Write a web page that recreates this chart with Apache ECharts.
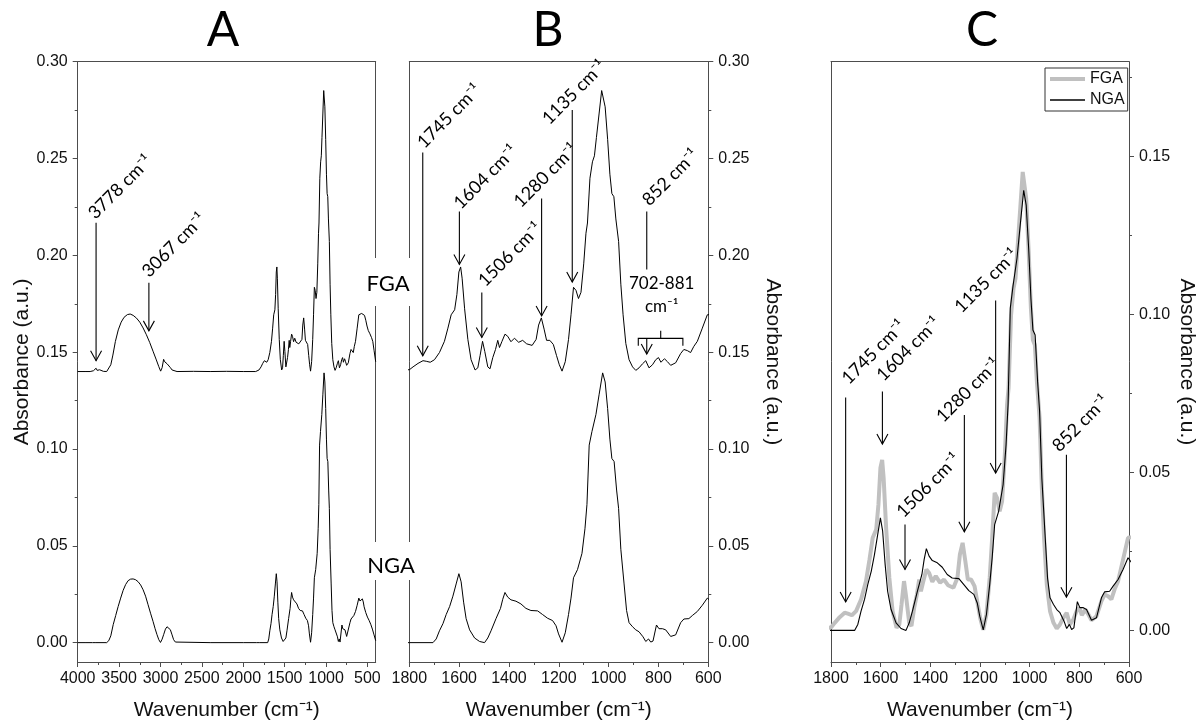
<!DOCTYPE html>
<html><head><meta charset="utf-8">
<script src="https://cdn.jsdelivr.net/npm/echarts@6/dist/echarts.min.js"></script>
<style>html,body{margin:0;padding:0;background:#fff}#c{width:1198px;height:726px}</style>
</head><body><div id="c"></div><script>
// ---------- spectra (wavenumber cm-1, absorbance a.u.) ----------
const wnFGA = [4000,3900,3850,3810,3790,3778,3765,3750,3735,3715,3690,3650,3630,3600,3575,3545,3510,3475,3440,3400,3366,3330,3290,3250,3210,3170,3130,3090,3050,3020,2998,2980,2962,2948,2935,2920,2900,2880,2860,2840,2800,2600,2400,2200,2000,1850,1810,
1799,1785,1765,1745,1732,1716,1699,1679,1659,1645,1632,1618,1609,1601,1594,1588,1578,1565,1552,1536,1525,1516,1506,1497,1485,1476,1465,1454,1445,1438,1428,1416,1405,1392,1378,1361,1345,1329,1307,1291,1281,1270,1259,1249,1236,1222,1209,1198,1187,1174,1161,1151,1141,1131,1121,1111,1100,1091,1085,1075,1065,1057,1049,1038,1028,1022,1014,1004,995,987,979,971,960,951,942,931,918,904,891,878,864,851,838,824,811,800,790,776,764,751,731,711,698,684,671,658,644,624,604,
590,570,550,535,520,505,490,470,450,435,420,400];
const absFGA = [0,0,0,0.0004,0.0012,0.0017,0.0006,0.0004,0.0009,0.0004,0.0001,0,0.0008,0.0035,0.0085,0.0155,0.0215,0.0255,0.0280,0.0294,0.0297,0.0290,0.0276,0.0255,0.0225,0.0190,0.0150,0.0105,0.0060,0.0025,0.0002,0.0020,0.0063,0.0050,0.0045,0.0040,0.0030,0.0020,0.0008,0.0002,0,0.0001,0,0.0001,0,0,0.0008,
0.0010,0.0024,0.0042,0.0056,0.0053,0.0048,0.0061,0.0098,0.0156,0.0224,0.0293,0.0319,0.0398,0.0514,0.0540,0.0482,0.0324,0.0166,0.0061,0.0008,0.0019,0.0082,0.0156,0.0103,0.0024,0.0014,0.0072,0.0114,0.0161,0.0124,0.0156,0.0193,0.0182,0.0154,0.0172,0.0151,0.0161,0.0143,0.0135,0.0166,0.0240,0.0277,0.0219,0.0161,0.0161,0.0140,0.0082,0.0035,0.0002,0.0051,0.0166,0.0293,0.0435,0.0419,0.0377,0.0409,0.0556,0.0714,0.0767,0.0998,0.1083,0.1114,0.1209,0.1335,0.1451,0.1457,0.1367,0.1199,0.1019,0.0919,0.0903,0.0788,0.0672,0.0451,0.0293,0.0145,0.0061,0.0024,0.0006,0.0019,0.0040,0.0056,0.0019,0.0035,0.0061,0.0072,0.0048,0.0066,0.0051,0.0032,0.0045,0.0093,0.0114,0.0108,0.0098,0.0130,0.0156,0.0224,0.0293,
0.0295,0.0300,0.0300,0.0290,0.0265,0.0235,0.0212,0.0195,0.0175,0.0155,0.0110,0.0050];

const wnNGA = [4000,3900,3820,3804,3790,3650,3625,3600,3571,3541,3511,3481,3451,3421,3391,3361,3331,3301,3271,3240,3210,3180,3150,3120,3090,3065,3042,3020,3000,2980,2962,2940,2921,2900,2881,2860,2841,2820,2800,2400,2000,1837,1830,1822,1800,
1705,1692,1679,1665,1652,1638,1625,1612,1601,1592,1582,1572,1558,1538,1518,1498,1485,1472,1452,1434,1425,1416,1405,1392,1372,1352,1332,1312,1285,1265,1245,1225,1211,1201,1187,1174,1161,1151,1141,1125,1107,1095,1087,1078,1067,1051,1038,1024,1014,1004,995,987,978,968,960,951,938,928,918,904,891,878,862,851,840,831,822,808,798,784,771,751,731,711,698,678,664,644,624,604,
590,575,561,550,540,520,500,480,460,440,420,400];
const absNGA = [0,0,0,0.0005,0,0,0.0010,0.0035,0.0093,0.0140,0.0187,0.0230,0.0270,0.0300,0.0320,0.0328,0.0329,0.0325,0.0315,0.0298,0.0273,0.0240,0.0196,0.0152,0.0110,0.0072,0.0041,0.0015,0.0001,0.0018,0.0041,0.0070,0.0082,0.0078,0.0067,0.0040,0.0015,0.0003,0,0,0,0,0.0008,0,0,
0,0.0019,0.0061,0.0098,0.0145,0.0187,0.0240,0.0303,0.0356,0.0314,0.0209,0.0124,0.0066,0.0024,0.0006,0,0.0024,0.0061,0.0124,0.0177,0.0224,0.0259,0.0235,0.0221,0.0214,0.0200,0.0177,0.0166,0.0164,0.0145,0.0126,0.0114,0.0087,0.0045,0.0002,0.0051,0.0145,0.0230,0.0335,0.0377,0.0461,0.0588,0.0714,0.1020,0.1090,0.1178,0.1283,0.1393,0.1346,0.1209,0.1051,0.0951,0.0935,0.0788,0.0693,0.0482,0.0303,0.0166,0.0103,0.0082,0.0066,0.0056,0.0030,0.0006,0.0019,0.0003,0.0008,0.0091,0.0072,0.0072,0.0066,0.0032,0.0040,0.0103,0.0122,0.0124,0.0140,0.0161,0.0193,0.0230,
0.0215,0.0212,0.0226,0.0210,0.0185,0.0155,0.0132,0.0115,0.0095,0.0070,0.0040,0.0010];

const FGA_OFFSET = 0.14; // vertical offset of FGA trace in panels A and B

// ---------- ticks ----------
const xTicksA = [4000,3500,3000,2500,2000,1500,1000,500];
const xMinorA = [3750,3250,2750,2250,1750,1250,750];
const yTicksAB = [0,0.05,0.10,0.15,0.20,0.25,0.30];
const yMinorAB = [0.025,0.075,0.125,0.175,0.225,0.275];
const yTicksC = [0,0.05,0.10,0.15];
const yMinorC = [0.025,0.075,0.125,0.175];

// ---------- annotations (data coordinates) ----------
const annA_text = ['3778 cm⁻¹','3067 cm⁻¹'];
const annA_w    = [3778, 3140];
const annA_top  = [0.2168, 0.1859];
const annA_tip  = [0.1456, 0.1610];
const annA_head = [1, 1];
const annA_lw   = [3860, 3210];
const annA_lv   = [0.2193, 0.1893];

const annB_text = ['1745 cm⁻¹','1604 cm⁻¹','1506 cm⁻¹','1280 cm⁻¹','1135 cm⁻¹','852 cm⁻¹',''];
const annB_w    = [1746, 1599, 1509, 1269, 1146, 847, 847];
const annB_top  = [0.2531, 0.2227, 0.1808, 0.2293, 0.2750, 0.2227, 0.1571];
const annB_tip  = [0.1481, 0.1953, 0.1576, 0.1687, 0.1862, 0.1927, 0.1490];
const annB_head = [1, 1, 1, 1, 1, 0, 1];
const annB_lw   = [1764, 1617, 1519, 1376, 1262, 861, 847];
const annB_lv   = [0.2559, 0.2245, 0.1845, 0.2253, 0.2682, 0.2262, 0.2];

const bracketB_w = [881, 791, 702];
const bracketB_v = [0.1533, 0.1571, 0.1610]; // end, line, middle tick
const rangeB_text = ['702-881', 'cm⁻¹'];
const rangeB_w = [787, 787];
const rangeB_v = [0.1855, 0.1737];

const annC_text = ['1745 cm⁻¹','1604 cm⁻¹','1506 cm⁻¹','1280 cm⁻¹','1135 cm⁻¹','852 cm⁻¹'];
const annC_w    = [1741, 1593, 1502, 1263, 1137, 852];
const annC_top  = [0.0737, 0.0756, 0.0335, 0.0682, 0.1044, 0.0556];
const annC_tip  = [0.0090, 0.0590, 0.0193, 0.0312, 0.0498, 0.0105];
const annC_head = [1, 1, 1, 1, 1, 1];
const annC_lw   = [1752, 1612, 1532, 1372, 1298, 904];
const annC_lv   = [0.0783, 0.0793, 0.0361, 0.0662, 0.1009, 0.0569];

// ---------- styling ----------
const AX = '#4d4d4d';
const SANS = '"Liberation Sans", Arial, sans-serif';
const HUM = 'Lato, "Open Sans", sans-serif';
const tickFont = {fontFamily: SANS, fontSize: 16, color: '#111'};
const nameFont = {fontFamily: SANS, fontSize: 21, color: '#111'};
const gridTop = 61.7, gridH = 602.3;

const fmt2 = v => v.toFixed(2);
const fmtInt = v => String(Math.round(v));

function lineAxis(grid, min, max, inverse, pos) {
  return {gridIndex: grid, type: 'value', min, max, inverse, position: pos,
    axisLine: {show: true, onZero: false, lineStyle: {color: AX, width: 1}},
    axisTick: {show: false}, axisLabel: {show: false}, splitLine: {show: false}};
}
function minorAxis(grid, min, max, inverse, pos, vals) {
  return {gridIndex: grid, type: 'value', min, max, inverse, position: pos,
    axisLine: {show: false, onZero: false},
    axisTick: {show: true, inside: false, length: 3, customValues: vals, lineStyle: {color: AX}},
    axisLabel: {show: false}, splitLine: {show: false}};
}

const xAxis = [
  // A
  {gridIndex: 0, type: 'value', min: 400, max: 4000, inverse: true, position: 'bottom',
   axisLine: {show: true, onZero: false, lineStyle: {color: AX}},
   axisTick: {show: true, inside: false, length: 5, customValues: xTicksA, lineStyle: {color: AX}},
   axisLabel: Object.assign({show: true, customValues: xTicksA, margin: 9, formatter: fmtInt}, tickFont),
   splitLine: {show: false},
   name: 'Wavenumber (cm⁻¹)', nameLocation: 'middle', nameGap: 38, nameTextStyle: nameFont},
  minorAxis(0, 400, 4000, true, 'bottom', xMinorA),
  lineAxis(0, 400, 4000, true, 'top'),
  // B
  {gridIndex: 1, type: 'value', min: 600, max: 1800, interval: 200, inverse: true, position: 'bottom',
   axisLine: {show: true, onZero: false, lineStyle: {color: AX}},
   axisTick: {show: true, inside: false, length: 5, lineStyle: {color: AX}},
   minorTick: {show: true, splitNumber: 2, length: 3, lineStyle: {color: AX}},
   axisLabel: Object.assign({show: true, margin: 9, formatter: fmtInt}, tickFont),
   splitLine: {show: false},
   name: 'Wavenumber (cm⁻¹)', nameLocation: 'middle', nameGap: 38, nameTextStyle: nameFont},
  lineAxis(1, 600, 1800, true, 'top'),
  // C
  {gridIndex: 2, type: 'value', min: 600, max: 1800, interval: 200, inverse: true, position: 'bottom',
   axisLine: {show: true, onZero: false, lineStyle: {color: AX}},
   axisTick: {show: true, inside: false, length: 5, lineStyle: {color: AX}},
   minorTick: {show: true, splitNumber: 2, length: 3, lineStyle: {color: AX}},
   axisLabel: Object.assign({show: true, margin: 9, formatter: fmtInt}, tickFont),
   splitLine: {show: false},
   name: 'Wavenumber (cm⁻¹)', nameLocation: 'middle', nameGap: 38, nameTextStyle: nameFont},
  lineAxis(2, 600, 1800, true, 'top')
];

const yAxis = [
  // A
  {gridIndex: 0, type: 'value', min: -0.01, max: 0.30, position: 'left',
   axisLine: {show: true, onZero: false, lineStyle: {color: AX}},
   axisTick: {show: true, inside: false, length: 5, customValues: yTicksAB, lineStyle: {color: AX}},
   axisLabel: Object.assign({show: true, customValues: yTicksAB, margin: 10, formatter: fmt2}, tickFont),
   splitLine: {show: false},
   name: 'Absorbance (a.u.)', nameLocation: 'middle', nameGap: 44, nameTextStyle: nameFont},
  minorAxis(0, -0.01, 0.30, false, 'left', yMinorAB),
  lineAxis(0, -0.01, 0.30, false, 'right'),
  // B
  {gridIndex: 1, type: 'value', min: -0.01, max: 0.30, position: 'right',
   axisLine: {show: true, onZero: false, lineStyle: {color: AX}},
   axisTick: {show: true, inside: false, length: 5, customValues: yTicksAB, lineStyle: {color: AX}},
   axisLabel: Object.assign({show: true, customValues: yTicksAB, margin: 10, formatter: fmt2}, tickFont),
   splitLine: {show: false},
   name: 'Absorbance (a.u.)', nameLocation: 'middle', nameRotate: -90, nameGap: 54, nameTextStyle: nameFont},
  minorAxis(1, -0.01, 0.30, false, 'right', yMinorAB),
  lineAxis(1, -0.01, 0.30, false, 'left'),
  // C
  {gridIndex: 2, type: 'value', min: -0.01, max: 0.18, position: 'right',
   axisLine: {show: true, onZero: false, lineStyle: {color: AX}},
   axisTick: {show: true, inside: false, length: 5, customValues: yTicksC, lineStyle: {color: AX}},
   axisLabel: Object.assign({show: true, customValues: yTicksC, margin: 10, formatter: fmt2}, tickFont),
   splitLine: {show: false},
   name: 'Absorbance (a.u.)', nameLocation: 'middle', nameRotate: -90, nameGap: 47, nameTextStyle: nameFont},
  minorAxis(2, -0.01, 0.18, false, 'right', yMinorC),
  lineAxis(2, -0.01, 0.18, false, 'left')
];

function pairs(wn, ab, off) { return wn.map((w, i) => [w, ab[i] + off]); }

function lineSeries(name, xi, yi, data, color, width, z) {
  return {type: 'line', name, xAxisIndex: xi, yAxisIndex: yi, data, symbol: 'none', showSymbol: false,
    clip: true, silent: true, animation: false, z: z || 2,
    lineStyle: {color, width}, itemStyle: {color}};
}

function arrowSeries(xi, yi, texts, w, top, tip, head, lw, lv) {
  const data = w.map((v, i) => [v, top[i], tip[i], head[i], lw[i], lv[i]]);
  return {type: 'custom', xAxisIndex: xi, yAxisIndex: yi, data, silent: true, animation: false, z: 5,
    encode: {x: [0, 4], y: [1, 2, 5]},
    renderItem: function (params, api) {
      const i = params.dataIndex;
      const p1 = api.coord([api.value(0), api.value(1)]);
      const p2 = api.coord([api.value(0), api.value(2)]);
      const t = api.coord([api.value(4), api.value(5)]);
      const children = [{type: 'line', shape: {x1: p1[0], y1: p1[1], x2: p2[0], y2: p2[1]},
        style: {stroke: '#000', lineWidth: 1.1}}];
      if (api.value(3) === 1) {
        children.push({type: 'polyline', shape: {points: [[p2[0] - 5.5, p2[1] - 10], [p2[0], p2[1]], [p2[0] + 5.5, p2[1] - 10]]},
          style: {stroke: '#000', fill: null, lineWidth: 1.1}});
      }
      if (texts[i]) {
        children.push({type: 'text', x: t[0] + 2, y: t[1] - 2, rotation: Math.PI / 4,
          style: {text: texts[i], x: 0, y: 0, fill: '#000', fontSize: 18, fontFamily: HUM,
            align: 'left', verticalAlign: 'middle', textAlign: 'left', textVerticalAlign: 'middle'}});
      }
      return {type: 'group', children};
    }};
}

const bracketSeries = {type: 'custom', xAxisIndex: 3, yAxisIndex: 3, silent: true, animation: false, z: 5,
  data: [[bracketB_w[0], bracketB_w[1], bracketB_w[2], bracketB_v[0], bracketB_v[1], bracketB_v[2]]],
  encode: {x: [0, 1, 2], y: [3, 4, 5]},
  renderItem: function (params, api) {
    const a = api.coord([api.value(0), api.value(3)]);
    const b = api.coord([api.value(0), api.value(4)]);
    const m = api.coord([api.value(1), api.value(4)]);
    const mt = api.coord([api.value(1), api.value(5)]);
    const c = api.coord([api.value(2), api.value(4)]);
    const d = api.coord([api.value(2), api.value(3)]);
    return {type: 'group', children: [
      {type: 'polyline', shape: {points: [a, b, c, d]}, style: {stroke: '#000', fill: null, lineWidth: 1.1}},
      {type: 'line', shape: {x1: m[0], y1: m[1], x2: mt[0], y2: mt[1]}, style: {stroke: '#000', lineWidth: 1.1}}
    ]};
  }};

const rangeTextSeries = {type: 'custom', xAxisIndex: 3, yAxisIndex: 3, silent: true, animation: false, z: 5,
  data: rangeB_w.map((w, i) => [w, rangeB_v[i]]),
  encode: {x: 0, y: 1},
  renderItem: function (params, api) {
    const p = api.coord([api.value(0), api.value(1)]);
    return {type: 'text', x: p[0], y: p[1],
      style: {text: rangeB_text[params.dataIndex], fill: '#000', fontSize: 17, fontFamily: HUM,
        align: 'center', verticalAlign: 'middle', textAlign: 'center', textVerticalAlign: 'middle'}};
  }};

const series = [
  lineSeries('FGA-A', 0, 0, pairs(wnFGA, absFGA, FGA_OFFSET), '#000', 1),
  lineSeries('NGA-A', 0, 0, pairs(wnNGA, absNGA, 0), '#000', 1),
  arrowSeries(0, 0, annA_text, annA_w, annA_top, annA_tip, annA_head, annA_lw, annA_lv),
  lineSeries('FGA-B', 3, 3, pairs(wnFGA, absFGA, FGA_OFFSET), '#000', 1),
  lineSeries('NGA-B', 3, 3, pairs(wnNGA, absNGA, 0), '#000', 1),
  arrowSeries(3, 3, annB_text, annB_w, annB_top, annB_tip, annB_head, annB_lw, annB_lv),
  bracketSeries, rangeTextSeries,
  lineSeries('FGA', 5, 6, pairs(wnFGA, absFGA, 0), '#c0c0c0', 4, 2),
  lineSeries('NGA', 5, 6, pairs(wnNGA, absNGA, 0), '#000', 1.1, 3),
  arrowSeries(5, 6, annC_text, annC_w, annC_top, annC_tip, annC_head, annC_lw, annC_lv)
];

function title(txt, x) {
  return {type: 'text', x, y: 31, z: 100,
    style: {text: txt, fill: '#000', fontSize: 48, fontFamily: HUM,
      align: 'center', verticalAlign: 'middle', textAlign: 'center', textVerticalAlign: 'middle'}};
}
function tag(txt, cx, cy, y0, y1) {
  return [
    {type: 'rect', z: 100, shape: {x: 362, y: y0, width: 54, height: y1 - y0}, style: {fill: '#fff'}},
    {type: 'text', x: cx, y: cy, z: 101,
     style: {text: txt, fill: '#000', fontSize: 22, fontFamily: HUM,
       align: 'center', verticalAlign: 'middle', textAlign: 'center', textVerticalAlign: 'middle'}}
  ];
}

const option = {
  backgroundColor: '#fff',
  animation: false,
  grid: [
    {left: 77.7, top: gridTop, width: 298, height: gridH},
    {left: 409.3, top: gridTop, width: 299, height: gridH},
    {left: 831, top: gridTop, width: 299.7, height: gridH}
  ],
  xAxis, yAxis, series,
  legend: {data: [
      {name: 'FGA', lineStyle: {width: 4, color: '#c0c0c0'}},
      {name: 'NGA', lineStyle: {width: 1.3, color: '#000'}}
    ], orient: 'vertical', left: 1045, top: 68,
    padding: [3, 3, 3, 3], itemGap: 5, itemWidth: 35, itemHeight: 14,
    itemStyle: {opacity: 0, borderWidth: 0},
    borderColor: '#333', borderWidth: 1, selectedMode: false,
    textStyle: {fontFamily: SANS, fontSize: 16, color: '#111'}},
  graphic: [title('A', 223), title('B', 548), title('C', 982)]
    .concat(tag('FGA', 388, 284, 258, 306))
    .concat(tag('NGA', 391, 566, 542, 580))
};

const chart = echarts.init(document.getElementById('c'), null, {renderer: 'canvas'});
chart.setOption(option);
</script></body></html>
